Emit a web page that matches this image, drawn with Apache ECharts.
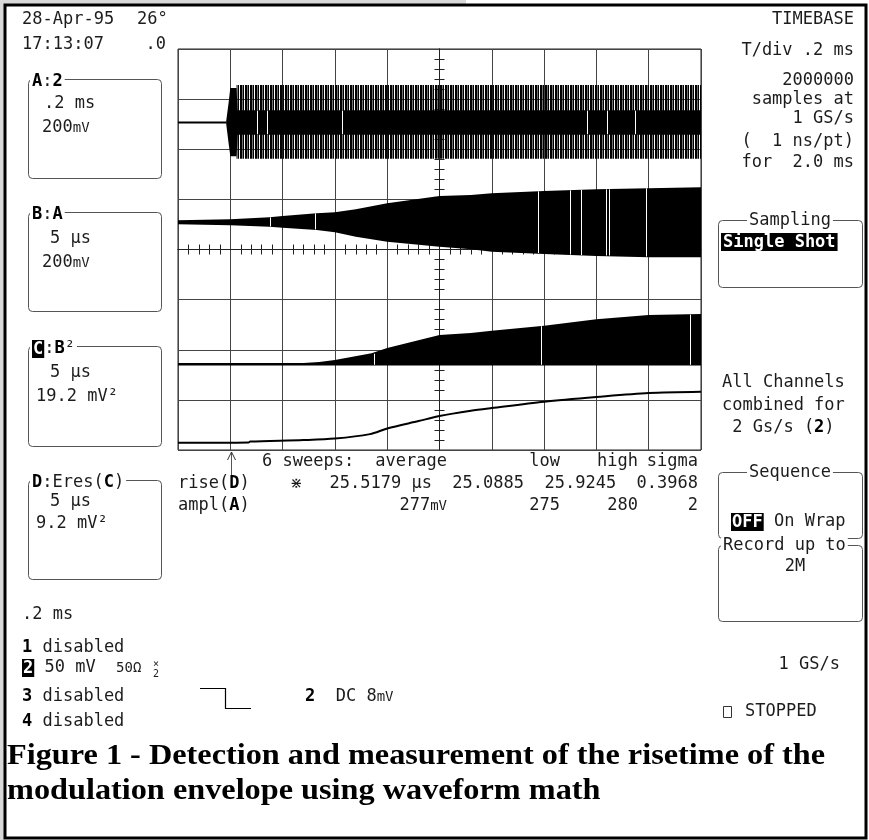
<!DOCTYPE html>
<html>
<head>
<meta charset="utf-8">
<script src="https://cdn.jsdelivr.net/npm/echarts@6/dist/echarts.min.js"></script>
<style>
  html, body { margin: 0; padding: 0; background: #fff; }
  #chart { width: 869px; height: 840px; }
</style>
</head>
<body>
<div id="chart"></div>
<script>
// screen units: x in time divisions (-5..5), y in vertical divisions (-4..4)

// trace A: 2 (raw signal, burst starts near -4.1 div)
const aPreX = [-5, -4.08]
const aPreY = [2.535, 2.535]
const aCoreX = [-4.08, -4.03, -4.0, -3.88, -3.86, 5]
const aCoreTop = [2.55, 2.95, 3.22, 3.22, 2.78, 2.78]
const aCoreBot = [2.52, 2.10, 1.86, 1.86, 2.29, 2.29]
const aCombX = [-3.88, 5]
const aCombTop = [3.28, 3.28]
const aCombBot = [1.81, 1.81]
const aGaps = [[-3.49, 2.30, 2.77], [-3.30, 2.30, 2.77], [-1.86, 2.30, 2.77], [2.82, 2.30, 2.77], [3.20, 2.30, 2.77], [3.74, 2.30, 2.77]]

// trace B: A zoomed 5 us/div
const bX = [-5, -4, -3.25, -3, -2.35, -2, -1.6, -1, 0, 0.6, 1, 2, 3, 4, 5]
const bTop = [0.583, 0.603, 0.643, 0.669, 0.723, 0.743, 0.802, 0.922, 1.068, 1.088, 1.122, 1.168, 1.202, 1.222, 1.242]
const bBot = [0.503, 0.483, 0.455, 0.435, 0.389, 0.343, 0.255, 0.156, 0.056, 0.004, -0.044, -0.090, -0.130, -0.156, -0.156]
const bGaps = [[-3.24, 0.46, 0.64], [-2.38, 0.40, 0.72], [1.88, -0.07, 1.16], [2.50, -0.10, 1.18], [2.71, -0.11, 1.19], [3.18, -0.12, 1.20], [3.24, -0.12, 1.20], [3.95, -0.14, 1.22]]

// trace C: B squared
const cX = [-5, -2.6, -2.3, -2, -1.3, -1, 0, 0.6, 1, 2, 3, 4, 5]
const cTop = [-2.265, -2.265, -2.246, -2.206, -2.072, -1.966, -1.707, -1.667, -1.621, -1.521, -1.393, -1.307, -1.287]
const cBase = -2.315
const cGaps = [[-1.25, -2.30, -2.08], [1.94, -2.30, -1.53], [4.79, -2.30, -1.30]]

// trace D: enhanced resolution of C (the envelope)
const dX = [-5, -3.65, -3.62, -2.6, -2, -1.33, -1, -0.4, 0, 0.6, 1, 2, 3, 4, 5]
const dY = [-3.856, -3.848, -3.832, -3.802, -3.772, -3.683, -3.571, -3.423, -3.323, -3.218, -3.164, -3.038, -2.944, -2.864, -2.838]

// measurement table
const measHeader = ['average', 'low', 'high', 'sigma']
const riseValues = ['25.5179 µs', '25.0885', '25.9245', '0.3968']
const amplValues = ['277mV', '275', '280', '2']

const INK = '#1c1c1c'
const MONO = 'DejaVu Sans Mono'
const FS = 17

const chart = echarts.init(document.getElementById('chart'))

// comb texture for the raw burst
const comb = document.createElement('canvas')
comb.width = 5
comb.height = 1
{
  const ctx = comb.getContext('2d')
  ctx.fillStyle = '#000'
  ctx.fillRect(0, 0, 2, 1)
  ctx.fillRect(3, 0, 1, 1)
  ctx.fillStyle = 'rgba(0,0,0,0.55)'
  ctx.fillRect(2, 0, 1, 1)
}

function band(name, xs, top, bot, fill) {
  return {
    name,
    type: 'custom',
    data: [[xs[0], top[0]]],
    silent: true,
    renderItem(params, api) {
      const up = xs.map((x, i) => api.coord([x, top[i]]))
      const dn = xs.map((x, i) => api.coord([x, Array.isArray(bot) ? bot[i] : bot])).reverse()
      return { type: 'polygon', shape: { points: up.concat(dn) }, style: { fill, stroke: null } }
    },
  }
}

function gaps(name, list) {
  return {
    name,
    type: 'custom',
    data: list,
    silent: true,
    z: 3,
    renderItem(params, api) {
      const p1 = api.coord([api.value(0), api.value(1)])
      const p2 = api.coord([api.value(0), api.value(2)])
      return {
        type: 'line',
        shape: { x1: Math.round(p1[0]) + 0.5, y1: p1[1], x2: Math.round(p1[0]) + 0.5, y2: p2[1] },
        style: { stroke: '#fff', lineWidth: 1 },
      }
    },
  }
}

function txt(text, x, y, opt = {}) {
  return {
    type: 'text',
    x,
    y,
    z: 10,
    silent: true,
    style: Object.assign({
      text,
      fill: INK,
      fontFamily: MONO,
      fontSize: FS,
      textAlign: opt.align || 'left',
      textVerticalAlign: 'middle',
      rich: {
        b: { fontWeight: 'bold', fontFamily: MONO, fontSize: FS, fill: '#000' },
        s: { fontFamily: MONO, fontSize: 14, fill: INK },
        inv: { fontWeight: 'bold', fontFamily: MONO, fontSize: FS, fill: '#fff', backgroundColor: '#000', padding: [1, 1, 0, 1] },
      },
    }, opt.style || {}),
  }
}

function box(x, y, w, h) {
  return {
    type: 'rect',
    z: 5,
    silent: true,
    shape: { x: x + 0.5, y: y + 0.5, width: w, height: h, r: 4 },
    style: { fill: null, stroke: '#555', lineWidth: 1 },
  }
}

const label = (text, x, y, align) => txt(text, x, y, { align, style: { backgroundColor: '#fff', padding: [0, 2] } })

// caption is set in a condensed bold serif: fit it to the measured width
const capFont = 'bold 29px "Liberation Serif"'
const meas = document.createElement('canvas').getContext('2d')
meas.font = capFont
const cap1 = 'Figure 1 - Detection and measurement of the risetime of the'
const cap2 = 'modulation envelope using waveform math'
const capScale = 818 / meas.measureText(cap1).width

const colRight = [447, 560, 638, 698]

const graphics = [
  { type: 'rect', silent: true, shape: { x: 0, y: 0, width: 466, height: 4 }, style: { fill: '#d9d9d9' } },
  { type: 'rect', silent: true, shape: { x: 0, y: 0, width: 4, height: 840 }, style: { fill: '#d9d9d9' } },
  { type: 'rect', silent: true, shape: { x: 5, y: 5, width: 861, height: 833 }, style: { fill: null, stroke: '#000', lineWidth: 3 } },

  // date / time
  txt('28-Apr-95', 22, 20), txt('26°', 137, 20),
  txt('17:13:07', 22, 45), txt('.0', 166, 45, { align: 'right' }),

  // trace descriptor boxes
  box(28, 79, 133, 99), label('{b|A}:{b|2}', 30, 82),
  txt('.2 ms', 44, 104), txt('200{s|mV}', 42, 128),
  box(28, 212, 133, 99), label('{b|B}:{b|A}', 30, 215),
  txt('5 µs', 50, 239), txt('200{s|mV}', 42, 263),
  box(28, 346, 133, 100), label('{inv|C}:{b|B}²', 30, 349),
  txt('5 µs', 50, 373), txt('19.2 mV²', 36, 397),
  box(28, 480, 133, 99), label('{b|D}:Eres({b|C})', 30, 483),
  txt('5 µs', 50, 502), txt('9.2 mV²', 36, 524),

  // channel status
  txt('.2 ms', 22, 615),
  txt('{b|1} disabled', 22, 648),
  txt('{inv|2} 50 mV  {s|50Ω}', 22, 668),
  txt('×', 153, 664, { style: { fontSize: 10 } }), txt('2', 153, 674, { style: { fontSize: 10 } }),
  txt('{b|3} disabled', 22, 697),
  txt('{b|4} disabled', 22, 722),
  { type: 'polyline', silent: true, shape: { points: [[200, 688.5], [225.5, 688.5], [225.5, 708.5], [251, 708.5]] }, style: { stroke: '#000', lineWidth: 1.2, fill: null } },
  txt('{b|2}  DC 8{s|mV}', 305, 697),

  // trigger marker under the grid
  { type: 'polyline', silent: true, shape: { points: [[231.5, 452], [231.5, 475]] }, style: { stroke: '#555', lineWidth: 1 } },
  { type: 'polyline', silent: true, shape: { points: [[227.5, 460], [231.5, 452], [235.5, 460]] }, style: { stroke: '#333', lineWidth: 1, fill: null } },

  // measurements
  txt('6 sweeps:', 262, 462),
  ...measHeader.map((v, i) => txt(v, colRight[i], 462, { align: 'right' })),
  txt('rise({b|D})', 178, 484), txt('⋇', 290, 484, { style: { fontSize: 15 } }),
  txt(riseValues.join('  '), 698, 484, { align: 'right' }),
  txt('ampl({b|A})', 178, 506),
  ...amplValues.map((v, i) => txt(v.replace('mV', '{s|mV}'), colRight[i], 506, { align: 'right' })),

  // timebase panel
  txt('TIMEBASE', 854, 20, { align: 'right' }),
  txt('T/div .2 ms', 854, 51, { align: 'right' }),
  txt('2000000', 854, 81, { align: 'right' }),
  txt('samples at', 854, 100, { align: 'right' }),
  txt('1 GS/s', 854, 119, { align: 'right' }),
  txt('(  1 ns/pt)', 854, 142, { align: 'right' }),
  txt('for  2.0 ms', 854, 163, { align: 'right' }),
  box(718, 220, 144, 67), label('Sampling', 790, 221, 'center'),
  txt('Single Shot', 721, 242, { style: { fontWeight: 'bold', fill: '#fff', backgroundColor: '#000', padding: [1, 2, 0, 2] } }),

  txt('All Channels', 722, 383),
  txt('combined for', 722, 406),
  txt(' 2 Gs/s ({b|2})', 722, 428),
  box(718, 472, 144, 66), label('Sequence', 790, 473, 'center'),
  txt('{inv|OFF} On Wrap', 731, 522),
  box(718, 545, 144, 76), label('Record up to', 721, 546),
  txt('2M', 795, 567, { align: 'center' }),
  txt('1 GS/s', 840, 665, { align: 'right' }),
  { type: 'rect', silent: true, shape: { x: 723.5, y: 706.5, width: 8, height: 11 }, style: { fill: null, stroke: '#333', lineWidth: 1 } },
  txt('STOPPED', 745, 712),

  // caption
  { type: 'text', x: 7, y: 757, silent: true, scaleX: capScale, style: { text: cap1, font: capFont, fill: '#000', textVerticalAlign: 'middle' } },
  { type: 'text', x: 7, y: 792, silent: true, scaleX: capScale, style: { text: cap2, font: capFont, fill: '#000', textVerticalAlign: 'middle' } },
]

const axisBase = {
  type: 'value',
  interval: 1,
  axisLine: { onZero: true, onZeroAxisIndex: 0, lineStyle: { color: '#222', width: 1 } },
  axisTick: { show: false },
  minorTick: { show: true, splitNumber: 5, length: 5, lineStyle: { color: '#222', width: 1 } },
  axisLabel: { show: false },
  minorSplitLine: { show: false },
}

const option = {
  animation: false,
  backgroundColor: '#fff',
  grid: { left: 178, top: 49, width: 523, height: 401, show: true, borderColor: '#222', borderWidth: 1, backgroundColor: 'transparent' },
  xAxis: [
    { ...axisBase, min: -5, max: 5, position: 'bottom', splitLine: { show: true, lineStyle: { color: '#444', width: 1 } } },
    { ...axisBase, min: -5, max: 5, position: 'top', splitLine: { show: false } },
  ],
  yAxis: [
    { ...axisBase, min: -4, max: 4, position: 'left', splitLine: { show: true, lineStyle: { color: '#444', width: 1 } } },
    { ...axisBase, min: -4, max: 4, position: 'right', splitLine: { show: false } },
  ],
  series: [
    {
      name: 'A pre',
      type: 'line',
      data: aPreX.map((x, i) => [x, aPreY[i]]),
      showSymbol: false,
      lineStyle: { color: '#000', width: 2 },
      silent: true,
    },
    band('A comb', aCombX, aCombTop, aCombBot, { image: comb, repeat: 'repeat' }),
    band('A core', aCoreX, aCoreTop, aCoreBot, '#000'),
    gaps('A gaps', aGaps),
    band('B', bX, bTop, bBot, '#000'),
    gaps('B gaps', bGaps),
    band('C', cX, cTop, cBase, '#000'),
    gaps('C gaps', cGaps),
    {
      name: 'D',
      type: 'line',
      data: dX.map((x, i) => [x, dY[i]]),
      showSymbol: false,
      smooth: 0.3,
      lineStyle: { color: '#000', width: 2 },
      silent: true,
    },
  ],
  graphic: graphics,
}

chart.setOption(option)
</script>
</body>
</html>
